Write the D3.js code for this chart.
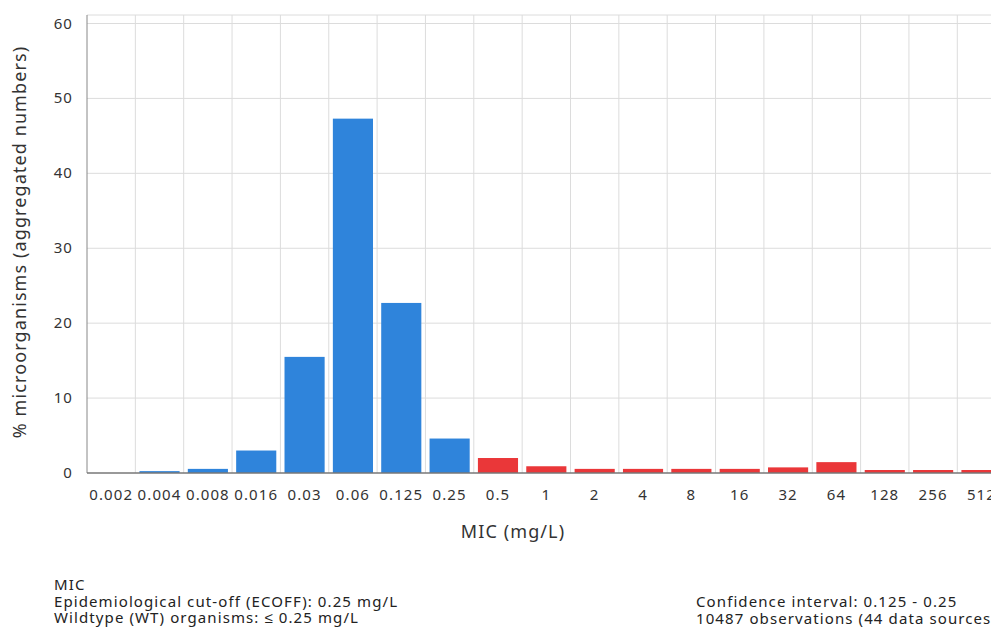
<!DOCTYPE html>
<html><head><meta charset="utf-8">
<script src="https://cdn.jsdelivr.net/npm/d3@7"></script>
<style>body{margin:0;background:#fff;overflow:hidden}svg{display:block;font-family:"Noto Sans",sans-serif}text{letter-spacing:1.1px}</style>
</head><body><svg id="c" width="991" height="628"></svg>
<script>
const categories = ["0.002","0.004","0.008","0.016","0.03","0.06","0.125","0.25","0.5","1","2","4","8","16","32","64","128","256","512"];
const values = [0, 0.25, 0.55, 3.0, 15.5, 47.3, 22.7, 4.6, 2.0, 0.9, 0.55, 0.55, 0.55, 0.55, 0.75, 1.45, 0.4, 0.4, 0.4];
const ecoff = "0.25";
const yTicks = [0,10,20,30,40,50,60];

(function(){
const svg = d3.select("#c");
const pLeft = 87, pTop = 15, pBottom = 473, bandW = 48.35;
const pRight = pLeft + bandW * categories.length;
const x = d3.scaleBand().domain(categories).range([pLeft, pRight]).paddingInner(0.17).paddingOuter(0.085);
const y = d3.scaleLinear().domain([0, 60]).range([pBottom, 23.5]);
const ecoffIdx = categories.indexOf(ecoff);

svg.append("line").attr("x1", pLeft).attr("x2", pRight).attr("y1", pTop).attr("y2", pTop).attr("stroke", "#dcdcdc");
svg.append("g").selectAll("line").data(yTicks.filter(d => d > 0)).join("line")
  .attr("x1", pLeft).attr("x2", pRight).attr("y1", d => y(d)).attr("y2", d => y(d))
  .attr("stroke", "#dcdcdc").attr("stroke-width", 1);
const edges = categories.map((c, i) => pLeft + bandW * (i + 1));
svg.append("g").selectAll("line").data(edges).join("line")
  .attr("x1", d => d).attr("x2", d => d).attr("y1", pTop).attr("y2", pBottom)
  .attr("stroke", "#dcdcdc");

svg.append("g").selectAll("rect").data(categories).join("rect")
  .attr("x", d => x(d)).attr("width", x.bandwidth())
  .attr("y", (d, i) => y(values[i])).attr("height", (d, i) => pBottom - y(values[i]))
  .attr("fill", (d, i) => i <= ecoffIdx ? "#2f84db" : "#ea3739");

svg.append("line").attr("x1", pLeft).attr("x2", pLeft).attr("y1", pTop).attr("y2", pBottom).attr("stroke", "#888");
svg.append("line").attr("x1", pLeft).attr("x2", pRight).attr("y1", pBottom).attr("y2", pBottom).attr("stroke", "#777").attr("stroke-width", 1.5);

svg.append("g").selectAll("text").data(yTicks).join("text")
  .attr("x", 73).attr("y", d => y(d) + 5).attr("text-anchor", "end")
  .attr("font-size", 15).attr("fill", "#333").text(d => d);

svg.append("g").selectAll("text").data(categories).join("text")
  .attr("x", d => x(d) + x.bandwidth() / 2).attr("y", 500).attr("text-anchor", "middle")
  .attr("font-size", 15).attr("fill", "#333").text(d => d);

svg.append("text").attr("x", 513).attr("y", 538).attr("text-anchor", "middle")
  .attr("font-size", 18).attr("fill", "#333").text("MIC (mg/L)");
svg.append("text").attr("transform", "translate(26,242) rotate(-90)").attr("text-anchor", "middle")
  .attr("font-size", 18).attr("fill", "#333").text("% microorganisms (aggregated numbers)");

const leftLines = ["MIC", "Epidemiological cut-off (ECOFF): 0.25 mg/L", "Wildtype (WT) organisms: \u2264 0.25 mg/L"];
const rightLines = ["Confidence interval: 0.125 - 0.25", "10487 observations (44 data sources)"];
svg.append("g").selectAll("text").data(leftLines).join("text")
  .attr("x", 54).attr("y", (d, i) => 590 + i * 16.5).attr("font-size", 15).attr("fill", "#222").text(d => d);
svg.append("g").selectAll("text").data(rightLines).join("text")
  .attr("x", 696).attr("y", (d, i) => 607 + i * 16.5).attr("font-size", 15).attr("fill", "#222").text(d => d);
})();
</script></body></html>
